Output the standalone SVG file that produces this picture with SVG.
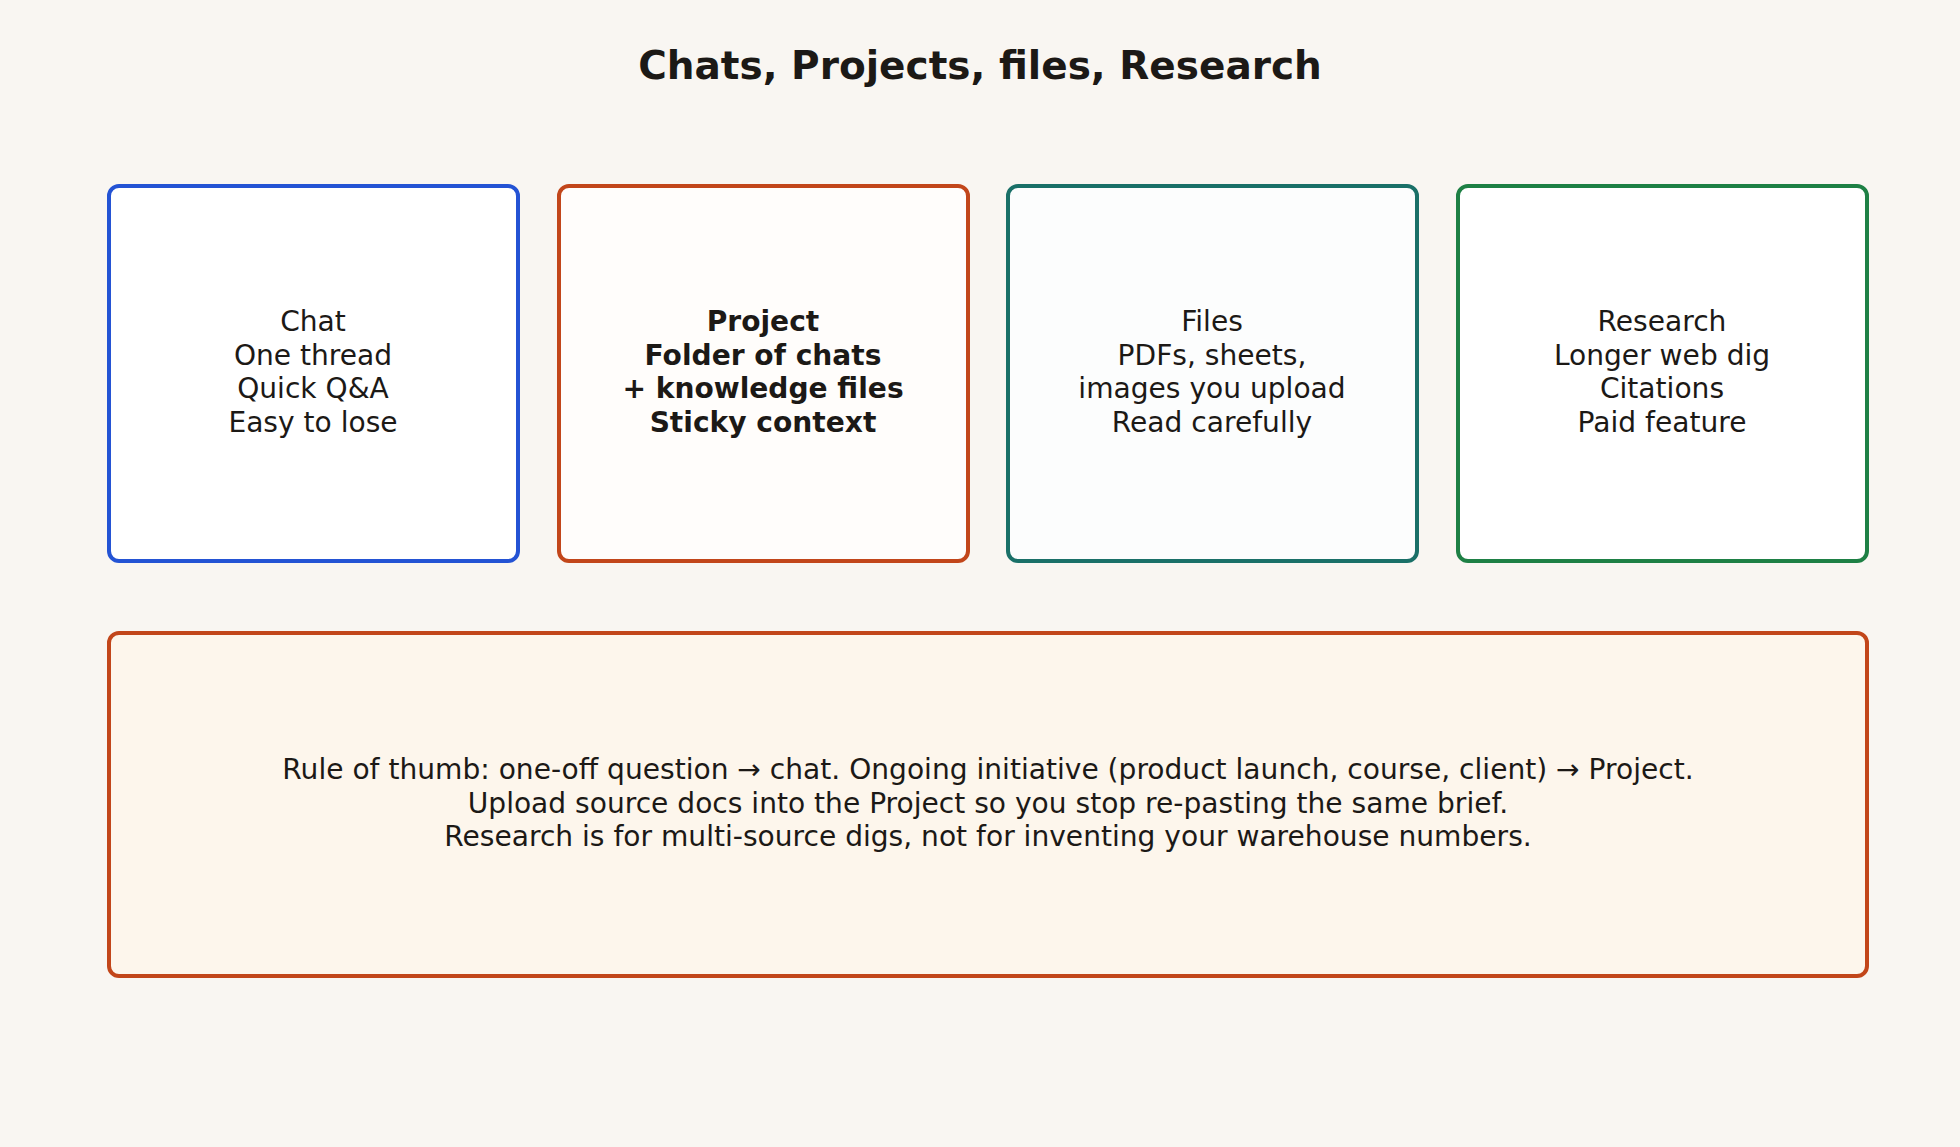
<svg xmlns="http://www.w3.org/2000/svg" width="1960" height="1147" viewBox="0 0 1960 1147">
<style>
.card{stroke-width:4}
.t{font-family:"DejaVu Sans","Liberation Sans",sans-serif;font-size:28.1px;fill:#1c1916;text-anchor:middle}
.b{font-weight:bold}
.title{font-family:"DejaVu Sans","Liberation Sans",sans-serif;font-size:39px;font-weight:bold;fill:#1c1916;text-anchor:middle}
</style>
<rect x="0" y="0" width="1960" height="1147" fill="#f9f6f2"/>
<text class="title" x="980" y="79">Chats, Projects, files, Research</text>
<g id="chat">
<rect class="card" x="109" y="186" width="409" height="375" rx="10" fill="#ffffff" stroke="#2453d4"/>
<text class="t" x="313" y="331">Chat</text>
<text class="t" x="313" y="364.6">One thread</text>
<text class="t" x="313" y="398.2">Quick Q&amp;A</text>
<text class="t" x="313" y="431.8">Easy to lose</text>
</g>
<g id="project">
<rect class="card" x="559" y="186" width="409" height="375" rx="10" fill="#fffdfb" stroke="#c2461a"/>
<text class="t b" x="763" y="331">Project</text>
<text class="t b" x="763" y="364.6">Folder of chats</text>
<text class="t b" x="763" y="398.2">+ knowledge files</text>
<text class="t b" x="763" y="431.8">Sticky context</text>
</g>
<g id="files">
<rect class="card" x="1008" y="186" width="409" height="375" rx="10" fill="#fcfdfd" stroke="#1a7068"/>
<text class="t" x="1212" y="331">Files</text>
<text class="t" x="1212" y="364.6">PDFs, sheets,</text>
<text class="t" x="1212" y="398.2">images you upload</text>
<text class="t" x="1212" y="431.8">Read carefully</text>
</g>
<g id="research">
<rect class="card" x="1458" y="186" width="409" height="375" rx="10" fill="#ffffff" stroke="#1e8045"/>
<text class="t" x="1662" y="331">Research</text>
<text class="t" x="1662" y="364.6">Longer web dig</text>
<text class="t" x="1662" y="398.2">Citations</text>
<text class="t" x="1662" y="431.8">Paid feature</text>
</g>
<g id="rule">
<rect class="card" x="109" y="633" width="1758" height="343" rx="10" fill="#fdf6ec" stroke="#c2461a"/>
<text class="t" x="988" y="779">Rule of thumb: one-off question → chat. Ongoing initiative (product launch, course, client) → Project.</text>
<text class="t" x="988" y="812.6">Upload source docs into the Project so you stop re-pasting the same brief.</text>
<text class="t" x="988" y="846.2">Research is for multi-source digs, not for inventing your warehouse numbers.</text>
</g>
<g id="connectors"></g>
</svg>
